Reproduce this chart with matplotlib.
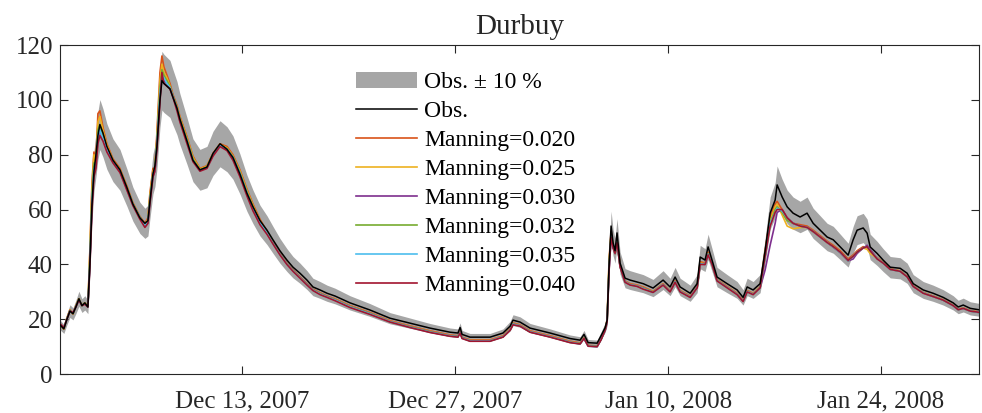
import matplotlib
matplotlib.use("Agg")
import matplotlib.pyplot as plt
import matplotlib.dates as mdates
from matplotlib.patches import Patch
from matplotlib.lines import Line2D
import numpy as np
import pandas as pd

plt.rcParams['font.family'] = ['Liberation Serif', 'DejaVu Serif']

# ---------------- data ----------------
start_date = "2007-12-01"
end_offset_days = 60.45

# time of each sample, days after start_date
t_days = [0.00, 0.26, 0.46, 0.66, 0.86, 1.05, 1.25, 1.45, 1.64, 1.84,
          1.97, 2.11, 2.24, 2.37, 2.50, 2.63, 2.83, 3.09, 3.49, 3.95,
          4.41, 4.80, 5.26, 5.59, 5.79, 5.92, 6.12, 6.25, 6.38, 6.58,
          6.71, 6.84, 7.04, 7.24, 7.43, 7.70, 7.89, 8.36, 8.75, 9.21,
          9.67, 10.07, 10.53, 10.99, 11.38, 11.84, 12.30, 12.70, 13.16, 13.62,
          14.01, 14.47, 14.93, 15.33, 15.79, 16.25, 16.64, 17.11, 17.57, 18.09,
          19.08, 20.39, 21.71, 23.03, 24.34, 25.66, 26.18, 26.32, 26.45, 26.97,
          28.29, 29.14, 29.61, 29.80, 30.26, 30.92, 32.24, 33.55, 34.21, 34.47,
          34.74, 35.33, 35.59, 35.86, 35.99, 36.12, 36.25, 36.38, 36.51, 36.64,
          36.84, 37.17, 37.50, 37.96, 38.36, 39.01, 39.67, 40.13, 40.46, 40.79,
          41.45, 41.91, 42.11, 42.43, 42.63, 42.89, 43.22, 43.88, 44.54, 44.93,
          45.20, 45.59, 46.05, 46.38, 46.71, 47.04, 47.17, 47.50, 47.83, 48.22,
          48.68, 49.14, 49.54, 50.00, 50.46, 50.86, 51.32, 51.84, 52.17, 52.43,
          52.83, 53.09, 53.29, 53.75, 54.14, 54.61, 55.26, 55.72, 56.12, 56.78,
          57.43, 58.09, 58.75, 59.08, 59.41, 59.87, 60.53]

obs = [18, 16.5, 20, 23, 22, 24.5, 27.5, 25, 26, 24.5,
       40, 62, 74, 80, 87, 91, 88, 83, 78, 74.5,
       68, 62, 57, 55, 56, 63, 73, 76, 83, 100,
       107, 106, 105, 104, 101, 97, 93, 85, 78, 74.5,
       75.5, 80.5, 84, 82, 79, 73, 66, 61, 56, 52.5,
       49, 45, 41.6, 39, 36.8, 34.3, 31.8, 30.7, 29.5, 28.5,
       26, 23.4, 20.4, 18.6, 16.8, 15.3, 15, 17, 14.5, 13.5,
       13.5, 15, 17.5, 19.7, 19, 16.8, 15, 13, 12.4, 14.5,
       11.5, 11.3, 14, 17, 19.7, 40, 54, 48, 45, 51.5,
       40.5, 35, 34.3, 33.6, 33, 31.4, 34.3, 31.8, 35.4, 31.8,
       29.5, 33, 42.7, 41.6, 46.4, 41.6, 35.4, 33, 30.7, 28,
       31.8, 30.7, 33, 45, 58.7, 63.5, 69, 64.6, 61, 58.7,
       57.3, 58.7, 55, 52.5, 50, 49, 46.4, 43.4, 49, 52.5,
       53.3, 51.4, 46.4, 44, 41.6, 39, 38.6, 36.8, 33, 30.7,
       29.5, 28, 26, 24.5, 25.2, 24, 23.4]

manning_020 = [18, 16.5, 20.5, 23.5, 22, 25, 27.5, 25, 26, 25,
               45, 70, 81, 78, 95, 96, 90, 84, 78.5, 75,
               68.5, 62.5, 57.5, 55, 57, 66, 75, 75, 88, 110,
               116, 112, 109, 106, 102, 98, 94, 86.5, 79.5, 75,
               76, 80.5, 84, 83, 80, 74.5, 67.5, 62, 56.5, 52,
               48, 44, 40.5, 38, 35.5, 33, 31, 29.7, 28.5, 27.5,
               25, 22.5, 19.5, 17.6, 15.8, 14.3, 14, 15.5, 13.5, 12.5,
               12.5, 14, 16.5, 18.7, 18, 15.8, 14, 12, 11.4, 13.3,
               10.5, 10.3, 13, 16.5, 20, 42, 52, 47, 44, 49,
               40, 34, 33, 32.5, 31.8, 30.2, 33, 30.5, 34, 30.5,
               28.5, 32, 41, 40.5, 44.5, 40.5, 34.5, 32, 29.5, 27,
               30.5, 29.5, 32, 45, 57, 62, 63, 60, 57, 55,
               54.5, 54, 52.5, 50.5, 48.5, 47, 45, 42, 43.5, 45,
               46.5, 46, 44.5, 42.5, 40.8, 38.4, 37.7, 35.8, 32.2, 29.8,
               28.5, 27.2, 25.2, 23.7, 24.2, 23.2, 22.6]

manning_025 = [18, 16.5, 20.3, 23.3, 22, 24.8, 27.5, 25, 26, 24.8,
               44, 68, 80, 77, 92, 94, 89, 83.5, 78, 74.5,
               68, 62, 57, 54.5, 56.5, 65, 74, 75, 86, 107,
               113, 110, 108, 105, 101.5, 97.5, 93.5, 86, 79, 74.8,
               75.8, 80.3, 83.8, 82.5, 79.5, 74, 67, 61.5, 56, 51.8,
               47.8, 43.8, 40.3, 37.8, 35.3, 32.8, 30.8, 29.5, 28.3, 27.3,
               24.8, 22.3, 19.3, 17.4, 15.6, 14.1, 13.8, 15.3, 13.3, 12.3,
               12.3, 13.8, 16.3, 18.5, 17.8, 15.6, 13.8, 11.8, 11.2, 13.2,
               10.4, 10.2, 12.8, 16.3, 19.6, 41, 51, 46.5, 44, 48.5,
               39.5, 33.8, 32.8, 32.3, 31.5, 30, 32.8, 30.3, 33.8, 30.3,
               28.3, 31.8, 40.5, 40.2, 44, 40.3, 34.3, 31.8, 29.3, 26.8,
               30.3, 29.3, 31.8, 44, 56, 61, 62, 58, 54, 53,
               53.5, 53.5, 52, 50, 48, 46.5, 44.5, 41.5, 43, 44.5,
               46, 45.5, 44, 42.3, 40.6, 38.3, 37.6, 35.7, 32.1, 29.7,
               28.4, 27.1, 25.1, 23.6, 24.1, 23.1, 22.5]

manning_030 = [18.2, 16.8, 20, 23, 22.3, 24.5, 27.2, 25, 25.8, 24.6,
               40, 62, 74, 76, 86, 89, 86, 82, 77.5, 74,
               67.5, 61.8, 57, 54, 55.5, 63, 72, 74, 83, 101,
               108, 107, 106, 104.5, 101.5, 97, 92.5, 85, 78, 74.3,
               75.3, 80, 83.5, 82, 79, 73, 66, 60.5, 55.3, 51.5,
               47.8, 43.8, 40.3, 37.8, 35.3, 32.8, 30.8, 29.4, 28.3, 27.2,
               24.7, 22.2, 19.2, 17.3, 15.5, 14, 13.8, 15.3, 13.3, 12.2,
               12.2, 13.7, 16.2, 18.4, 17.7, 15.5, 13.7, 11.7, 11.1, 13.1,
               10.3, 10.1, 12.7, 16.2, 19.4, 38.5, 49.5, 46.5, 44, 48,
               39.5, 33.7, 32.7, 32.2, 31.4, 29.9, 32.7, 30.2, 33.7, 30.2,
               28.2, 31.7, 40.2, 40, 43.8, 40.2, 34.2, 31.7, 29.2, 26.7,
               30.2, 29.2, 31.5, 38, 47, 55, 59, 60, 57, 55,
               54, 53.5, 52, 50, 48, 46.3, 44.3, 41.3, 42, 44,
               46, 47, 45.5, 42.2, 40.5, 38.2, 37.5, 35.6, 32, 29.6,
               28.3, 27, 25, 23.5, 24, 23, 22.4]

manning_032 = [18.3, 16.7, 20.2, 23.2, 22.2, 24.7, 27.3, 25, 25.9, 24.7,
               42, 65, 77, 77, 89, 91, 87, 82.5, 77.8, 74.2,
               67.8, 62, 57.2, 54.2, 56, 64, 73, 75, 85, 104,
               111, 109, 107, 104.8, 101.5, 97.2, 93, 85.5, 78.5, 74.5,
               75.5, 80.2, 83.6, 82.2, 79.2, 73.5, 66.5, 61, 55.6, 51.6,
               47.7, 43.7, 40.2, 37.7, 35.2, 32.7, 30.7, 29.3, 28.2, 27.1,
               24.6, 22.1, 19.1, 17.2, 15.4, 13.9, 13.7, 15.2, 13.2, 12.1,
               12.1, 13.6, 16.1, 18.3, 17.6, 15.4, 13.6, 11.6, 11.1, 13.1,
               10.3, 10.1, 12.6, 16.1, 19.3, 40, 51, 46.5, 44, 48.5,
               39.3, 33.6, 32.6, 32.1, 31.3, 29.9, 32.6, 30.1, 33.6, 30.1,
               28.1, 31.6, 40.3, 40.1, 43.8, 40.1, 34.1, 31.6, 29.1, 26.6,
               30.1, 29.1, 31.6, 43, 55, 60, 61, 59, 56, 55,
               54, 53.5, 52, 50, 48, 46.4, 44.4, 41.4, 43, 44.5,
               46, 46.5, 45, 42.1, 40.5, 38.2, 37.5, 35.6, 32, 29.6,
               28.3, 27, 25, 23.5, 24, 23, 22.4]

manning_035 = [18.4, 16.8, 20.1, 23.1, 22.3, 24.6, 27.2, 25, 25.7, 24.6,
               41, 63, 75, 76, 87, 89, 86, 82, 77.5, 74,
               67.5, 61.8, 57, 54, 55.5, 63, 73, 74, 84, 102,
               109, 108, 106, 104.5, 101.2, 96.8, 92.6, 85, 78, 74.2,
               75.2, 80, 83.4, 82, 79, 73.2, 66.2, 60.5, 55.2, 51.4,
               47.6, 43.6, 40.1, 37.6, 35.1, 32.6, 30.6, 29.2, 28.1, 27,
               24.5, 22, 19.1, 17.1, 15.3, 13.9, 13.6, 15.1, 13.1, 12.1,
               12.1, 13.6, 16.1, 18.2, 17.6, 15.4, 13.6, 11.6, 11, 13,
               10.2, 10, 12.6, 16, 19.2, 39, 50.5, 46.2, 44, 48.2,
               39.2, 33.6, 32.6, 32.1, 31.2, 29.8, 32.6, 30.1, 33.6, 30.1,
               28.1, 31.6, 40.2, 40.1, 43.7, 40.1, 34.1, 31.6, 29.1, 26.6,
               30.1, 29.1, 31.6, 43, 55, 59, 60.5, 59.5, 57, 55,
               54, 53.5, 52, 50, 48, 46.4, 44.4, 41.4, 43, 44.5,
               46, 46.5, 45, 42.1, 40.5, 38.2, 37.5, 35.6, 32, 29.6,
               28.3, 27, 25, 23.5, 24, 23, 22.4]

manning_040 = [18.5, 17, 20, 23, 22.5, 24.5, 27, 25, 25.5, 24.5,
               39, 60, 72, 75, 84, 87, 85, 81, 77, 73.5,
               67, 61.5, 56.5, 53.5, 55, 62, 72, 74, 82, 99,
               110, 106, 105, 104, 101, 96, 92, 84, 77.5, 74,
               75, 79.5, 83, 81.5, 78, 72, 65, 59.5, 54.5, 51,
               47.5, 43.5, 40, 37.5, 35, 32.5, 30.5, 29, 28, 26.8,
               24.3, 21.8, 19, 17, 15.2, 13.8, 13.5, 15, 13, 12,
               12, 13.5, 16, 18, 17.5, 15.3, 13.5, 11.5, 11, 13,
               10.2, 10, 12.5, 16, 19, 38, 50, 46, 44, 48,
               39, 33.5, 32.5, 32, 31, 29.8, 32.5, 30, 33.5, 30,
               28, 31.5, 40, 40, 43.5, 40, 34, 31.5, 29, 26.5,
               30, 29, 31.5, 43, 54, 59, 60, 60, 57, 55,
               54, 53.5, 52, 50, 48, 46.5, 44.5, 41.5, 43, 44.5,
               46, 46.5, 45, 42, 40.5, 38.2, 37.5, 35.5, 32, 29.5,
               28.3, 27, 25, 23.5, 24, 23, 22.5]

sim_labels = ["Manning=0.020", "Manning=0.025", "Manning=0.030",
              "Manning=0.032", "Manning=0.035", "Manning=0.040"]
sim_series = [manning_020, manning_025, manning_030,
              manning_032, manning_035, manning_040]
sim_colors = ["#D95319", "#EDB120", "#7E2F8E", "#77AC30", "#4DBEEE", "#A2142F"]

x_tick_dates = ["2007-12-13", "2007-12-27", "2008-01-10", "2008-01-24"]
y_ticks = [0, 20, 40, 60, 80, 100, 120]

# ---------------- plot ----------------
t0 = pd.Timestamp(start_date)
dates = t0 + pd.to_timedelta(np.array(t_days), unit="D")
obs_arr = np.array(obs)

fig = plt.figure(figsize=(9.82, 4.13), dpi=100)
ax = fig.add_axes([0.061, 0.094, 0.936, 0.797])

band_color = "#a6a6a6"
ax.fill_between(dates, obs_arr * 0.9, obs_arr * 1.1, color=band_color, lw=0, zorder=1)

for vals, col in zip(sim_series, sim_colors):
    ax.plot(dates, vals, color=col, lw=1.2, zorder=2)
ax.plot(dates, obs_arr, color="black", lw=1.1, zorder=3)

ax.set_xlim(t0, t0 + pd.Timedelta(days=end_offset_days))
ax.set_ylim(0, 120)
ax.set_yticks(y_ticks)
ax.set_xticks([pd.Timestamp(d) for d in x_tick_dates])
ax.xaxis.set_major_formatter(mdates.DateFormatter("%b %d, %Y"))

text_col = "#262626"
ax.tick_params(direction="in", length=6, width=0.8, top=True, right=True,
               labelsize=18, colors=text_col)
ax.tick_params(axis="x", pad=12)
ax.tick_params(axis="y", pad=5)
for sp in ax.spines.values():
    sp.set_color(text_col)
    sp.set_linewidth(0.8)

ax.set_title("Durbuy", fontsize=21, color=text_col, pad=8)

handles = [Patch(facecolor=band_color, edgecolor="none", label="Obs. \u00b1 10 %"),
           Line2D([], [], color="black", lw=1.1, label="Obs.")]
for lab, col in zip(sim_labels, sim_colors):
    handles.append(Line2D([], [], color=col, lw=1.2, label=lab))

ax.legend(handles=handles, loc="upper left", bbox_to_anchor=(0.322, 0.919),
          frameon=False, fontsize=17, handlelength=2.6, handletextpad=0.3,
          labelspacing=0.315, borderpad=0, borderaxespad=0)

fig.savefig("out.png", dpi=100)
